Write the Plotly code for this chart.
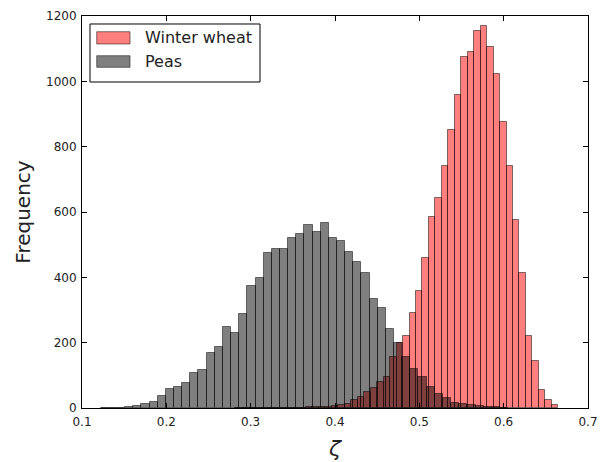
import numpy as np
import plotly.graph_objects as go

# Histogram bins (value axis)
wheat_start = 0.2812
wheat_width = 0.007672
peas_start = 0.1222
peas_width = 0.009661

# Bin counts
wheat_counts = [0, 0, 0, 0, 0, 0, 1, 1, 1, 1,
                1, 2, 2, 3, 4, 6, 8, 12, 24, 35,
                50, 62, 81, 95, 157, 200, 220, 292, 359, 458,
                585, 643, 741, 851, 958, 1074, 1091, 1155, 1169, 1105,
                1023, 875, 742, 575, 412, 220, 145, 55, 25, 8]

peas_counts = [1, 1, 1, 2, 5, 13, 18, 38, 58, 64,
               78, 107, 117, 167, 188, 248, 231, 288, 373, 397,
               473, 486, 488, 520, 533, 560, 540, 565, 519, 512,
               478, 448, 412, 335, 307, 242, 200, 155, 118, 96,
               65, 42, 30, 15, 11, 8, 5, 3, 2, 1]

series_names = ["Winter wheat", "Peas"]
x_ticks = [0.1, 0.2, 0.3, 0.4, 0.5, 0.6, 0.7]
x_tick_labels = ["0.1", "0.2", "0.3", "0.4", "0.5", "0.6", "0.7"]
y_ticks = [0, 200, 400, 600, 800, 1000, 1200]

wheat_centers = wheat_start + wheat_width * (np.arange(len(wheat_counts)) + 0.5)
peas_centers = peas_start + peas_width * (np.arange(len(peas_counts)) + 0.5)

FONT = "DejaVu Sans"
TXT = "#222222"
WHEAT_FILL = "rgba(255,0,0,0.5)"
PEAS_FILL = "rgba(0,0,0,0.5)"
EDGE = "rgba(0,0,0,0.5)"

fig = go.Figure()
fig.add_trace(go.Bar(
    x=wheat_centers, y=wheat_counts, width=wheat_width,
    name=series_names[0],
    marker=dict(color=WHEAT_FILL, line=dict(color=EDGE, width=1)),
))
fig.add_trace(go.Bar(
    x=peas_centers, y=peas_counts, width=peas_width,
    name=series_names[1],
    marker=dict(color=PEAS_FILL, line=dict(color=EDGE, width=1)),
))

axis_common = dict(
    showline=True, linecolor="#000000", linewidth=1, mirror="ticks",
    ticks="inside", ticklen=5, tickwidth=1, tickcolor="#000000",
    showgrid=False, zeroline=False, automargin=False,
    tickfont=dict(family=FONT, size=12, color=TXT),
)

# Legend drawn in paper coordinates (matplotlib-style wide patches)
shapes = [
    dict(type="rect", xref="paper", yref="paper", x0=0.0158, x1=0.3518, y0=0.8316, y1=0.9796,
         line=dict(color="#000000", width=1), fillcolor="white", layer="above"),
    dict(type="rect", xref="paper", yref="paper", x0=0.0291, x1=0.0949, y0=0.9286, y1=0.9599,
         line=dict(color=EDGE, width=1), fillcolor=WHEAT_FILL, layer="above"),
    dict(type="rect", xref="paper", yref="paper", x0=0.0291, x1=0.0949, y0=0.8691, y1=0.8987,
         line=dict(color=EDGE, width=1), fillcolor=PEAS_FILL, layer="above"),
]
annotations = [
    dict(text=series_names[0], xref="paper", yref="paper", x=0.1206, y=0.9446,
         xanchor="left", yanchor="middle", showarrow=False,
         font=dict(family=FONT, size=16, color=TXT)),
    dict(text=series_names[1], xref="paper", yref="paper", x=0.1206, y=0.8834,
         xanchor="left", yanchor="middle", showarrow=False,
         font=dict(family=FONT, size=16, color=TXT)),
]

fig.update_layout(
    width=605, height=462,
    margin=dict(l=82, r=17, t=16, b=54),
    paper_bgcolor="white", plot_bgcolor="white",
    barmode="overlay", bargap=0,
    font=dict(family=FONT, color=TXT),
    showlegend=False,
    shapes=shapes,
    annotations=annotations,
    xaxis=dict(range=[0.1, 0.7], tickvals=x_ticks, ticktext=x_tick_labels,
               ticklabelstandoff=3,
               title=dict(text="<i>ζ</i>", font=dict(family=FONT, size=22, color=TXT), standoff=12),
               **axis_common),
    yaxis=dict(range=[0, 1200], tickvals=y_ticks, ticklabelstandoff=2,
               title=dict(text="Frequency", font=dict(family=FONT, size=20, color=TXT), standoff=10),
               **axis_common),
)

fig.write_html("out.html")
